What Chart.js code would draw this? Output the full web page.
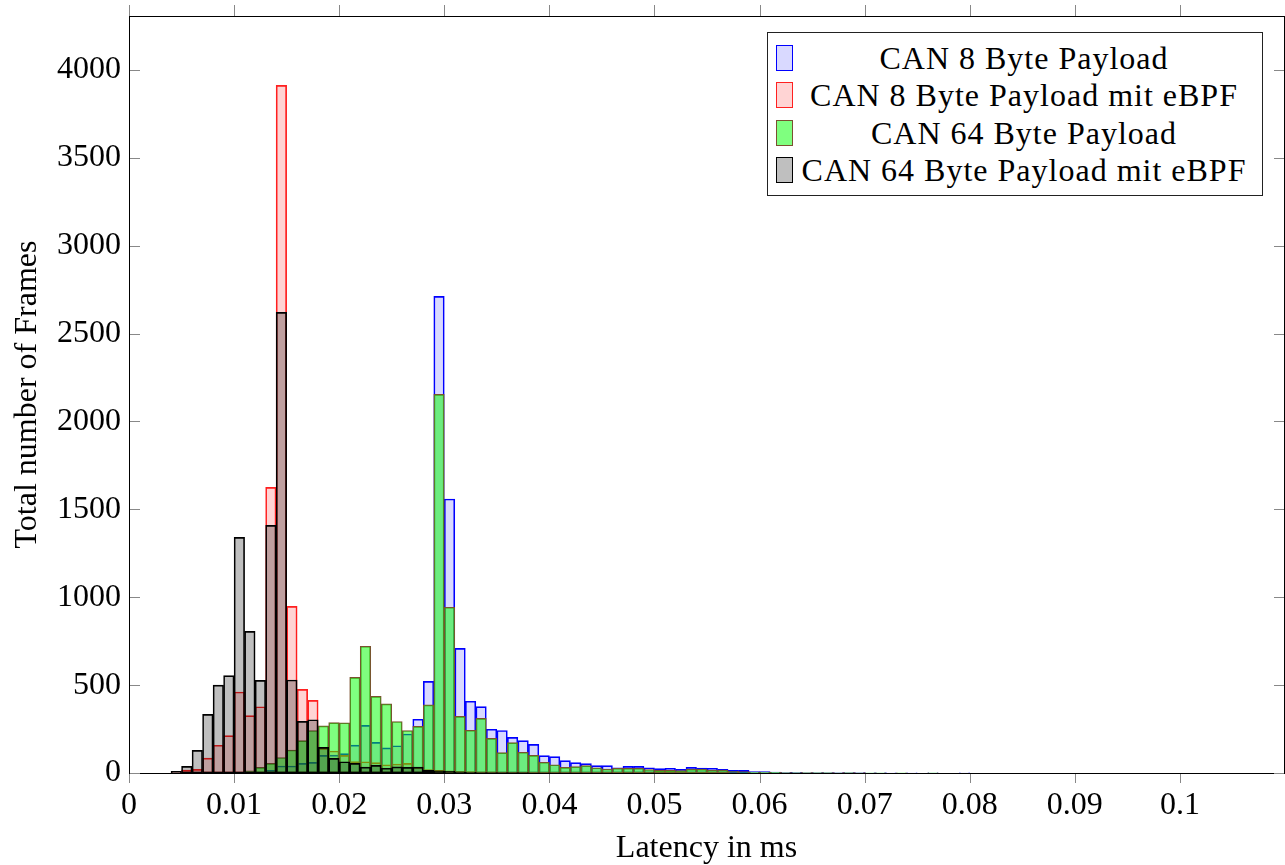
<!DOCTYPE html>
<html>
<head>
<meta charset="utf-8">
<script src="https://cdn.jsdelivr.net/npm/chart.js@4.4.1/dist/chart.umd.min.js"></script>
<style>
  body { margin: 0; background: #fff; }
  #wrap { position: relative; width: 1285px; height: 865px; }
  #legende {
    position: absolute; left: 767px; top: 32px; width: 496px; height: 164px;
    box-sizing: border-box; border: 1px solid #222; background: #fff;
    font-family: 'Liberation Serif', serif; font-size: 32px; letter-spacing: 1px; color: #000;
  }
  .zeile { position: absolute; left: 0; right: 0; height: 37px; }
  .kasten { position: absolute; left: 8px; top: 5px; width: 15px; height: 24px; border: 1px solid; }
  .text { position: absolute; left: 28px; right: 10px; top: 0; line-height: 37px; text-align: center; white-space: nowrap; }
</style>
</head>
<body>
<div id="wrap">
  <canvas id="histogramm" width="1285" height="865"></canvas>
  <div id="legende"></div>
</div>
<script>
// Histogramm: Bins zu je 0.001 ms, von 0 bis 0.1 ms
const binBreite = 0.001;
const binAnzahl = 100;

// Namen der Messreihen (Reihenfolge wie im Original gezeichnet)
const reihenNamen = [
  'CAN 8 Byte Payload',
  'CAN 8 Byte Payload mit eBPF',
  'CAN 64 Byte Payload',
  'CAN 64 Byte Payload mit eBPF'
];

// Anzahl Frames pro Bin
const can8 = [
  0, 0, 0, 0, 0, 0, 0, 0, 0, 0,
  0, 0, 5, 15, 40, 40, 55, 60, 100, 102,
  110, 159, 271, 174, 143, 155, 222, 306, 521, 2712,
  1559, 709, 408, 378, 249, 242, 203, 184, 163, 99,
  93, 70, 59, 53, 42, 42, 30, 38, 38, 30,
  25, 27, 21, 32, 28, 27, 21, 15, 15, 8,
  8, 5, 4, 4, 3, 3, 2, 2, 3, 2,
  1, 1, 1, 0, 1, 0, 1, 0, 0, 1,
  0, 0, 0, 0, 0, 0, 0, 0, 0, 0,
  0, 0, 0, 0, 0, 0, 0, 0, 0, 0
];
const can8Ebpf = [
  0, 0, 0, 0, 3, 16, 21, 85, 158, 213,
  461, 326, 377, 1625, 3912, 948, 476, 413, 140, 125,
  100, 65, 64, 59, 47, 51, 55, 32, 20, 15,
  12, 10, 8, 7, 6, 5, 4, 4, 3, 3,
  3, 2, 2, 2, 2, 2, 1, 1, 1, 1,
  1, 1, 1, 1, 1, 1, 1, 1, 1, 0,
  1, 0, 1, 0, 1, 0, 0, 1, 0, 1,
  0, 0, 0, 0, 0, 0, 0, 0, 0, 0,
  0, 0, 0, 0, 0, 0, 0, 0, 0, 0,
  0, 0, 0, 0, 0, 0, 0, 0, 0, 0
];
const can64 = [
  0, 0, 0, 0, 0, 0, 0, 0, 0, 0,
  3, 13, 32, 55, 88, 131, 184, 242, 268, 287,
  286, 544, 721, 436, 393, 293, 242, 265, 388, 2154,
  943, 322, 243, 311, 197, 116, 173, 118, 100, 61,
  47, 32, 36, 42, 30, 23, 27, 27, 27, 20,
  15, 15, 14, 22, 22, 17, 17, 10, 8, 5,
  5, 4, 3, 3, 2, 2, 2, 1, 2, 1,
  1, 1, 0, 1, 0, 0, 1, 0, 0, 0,
  0, 0, 0, 0, 0, 0, 0, 0, 0, 0,
  0, 0, 0, 0, 0, 0, 0, 0, 0, 0
];
const can64Ebpf = [
  0, 0, 0, 0, 9, 38, 129, 334, 500, 554,
  1341, 806, 527, 1409, 2621, 529, 294, 303, 146, 83,
  64, 55, 33, 43, 27, 35, 32, 33, 15, 12,
  10, 6, 4, 3, 3, 2, 2, 2, 1, 1,
  1, 1, 1, 1, 1, 1, 0, 1, 0, 1,
  0, 0, 0, 0, 0, 0, 0, 0, 0, 0,
  0, 0, 0, 0, 0, 0, 0, 0, 0, 0,
  0, 0, 0, 0, 0, 0, 0, 0, 0, 0,
  0, 0, 0, 0, 0, 0, 0, 0, 0, 0,
  0, 0, 0, 0, 0, 0, 0, 0, 0, 0
];

// Achsen und Tick-Werte
const xMax = 0.1099;
const yMax = 4307;
const xTicks = [0, 0.01, 0.02, 0.03, 0.04, 0.05, 0.06, 0.07, 0.08, 0.09, 0.1];
const yTicks = [0, 500, 1000, 1500, 2000, 2500, 3000, 3500, 4000];

// Farben
const fuellFarben = ['rgba(0,0,255,0.15)', 'rgba(255,0,0,0.17)', 'rgba(0,255,0,0.5)', 'rgba(0,0,0,0.25)'];
const randFarben = ['#0000ff', '#ff2020', '#7a5030', '#000000'];

const schrift = "'Liberation Serif', serif";

// Mittelpunkte der Bins
const binMitten = Array.from({ length: binAnzahl }, (_, i) => (i + 0.5) * binBreite);

function alsPunkte(werte) {
  return werte.map((v, i) => ({ x: binMitten[i], y: v }));
}

// Rahmen, Tick-Striche und Achsentitel
const rahmenPlugin = {
  id: 'rahmen',
  afterDatasetsDraw(chart) {
    const { ctx, chartArea: a, scales: { x, y } } = chart;
    ctx.save();
    ctx.strokeStyle = '#000';
    ctx.lineWidth = 1;
    ctx.strokeRect(a.left + 0.5, a.top + 0.5, a.right - a.left, a.bottom - a.top);

    ctx.strokeStyle = '#888';
    ctx.beginPath();
    x.ticks.forEach(t => {
      const px = Math.round(x.getPixelForValue(t.value)) + 0.5;
      ctx.moveTo(px, a.bottom + 1); ctx.lineTo(px, a.bottom + 10);
      ctx.moveTo(px, a.top); ctx.lineTo(px, a.top - 11);
    });
    y.ticks.forEach(t => {
      const py = Math.round(y.getPixelForValue(t.value)) + 0.5;
      ctx.moveTo(a.left + 1, py); ctx.lineTo(a.left + 11, py);
      ctx.moveTo(a.right, py); ctx.lineTo(a.right - 10, py);
    });
    ctx.stroke();

    ctx.fillStyle = '#000';
    ctx.font = '32px ' + schrift;
    ctx.textAlign = 'center';
    ctx.textBaseline = 'middle';
    ctx.fillText('Latency in ms', (a.left + a.right) / 2, 849);
    ctx.translate(28, (a.top + a.bottom) / 2);
    ctx.rotate(-Math.PI / 2);
    ctx.fillText('Total number of Frames', 0, 0);
    ctx.restore();
  }
};

function legendeBauen() {
  const box = document.getElementById('legende');
  const mitten = [25, 62.5, 100, 137];
  reihenNamen.forEach((name, i) => {
    const zeile = document.createElement('div');
    zeile.className = 'zeile';
    zeile.style.top = (mitten[i] - 18.5) + 'px';
    const kasten = document.createElement('div');
    kasten.className = 'kasten';
    kasten.style.background = fuellFarben[i];
    kasten.style.borderColor = randFarben[i];
    const text = document.createElement('div');
    text.className = 'text';
    text.textContent = name;
    zeile.appendChild(kasten);
    zeile.appendChild(text);
    box.appendChild(zeile);
  });
}

function zeichneHistogramm() {
  Chart.defaults.font.family = schrift;
  Chart.defaults.font.size = 32;
  Chart.defaults.color = '#000';

  const reihen = [can8, can8Ebpf, can64, can64Ebpf];
  const datasets = reihen.map((werte, i) => ({
    label: reihenNamen[i],
    data: alsPunkte(werte),
    backgroundColor: fuellFarben[i],
    borderColor: randFarben[i],
    borderWidth: 1,
    borderSkipped: false,
    barPercentage: 1,
    categoryPercentage: 1,
    grouped: false,
    order: reihen.length - i // letzte Reihe liegt oben
  }));

  const ctx = document.getElementById('histogramm').getContext('2d');
  new Chart(ctx, {
    type: 'bar',
    data: { datasets },
    options: {
      responsive: false,
      animation: false,
      layout: { padding: { top: 16, right: 1, left: 0, bottom: 0 } },
      scales: {
        x: {
          type: 'linear',
          offset: false,
          min: 0,
          max: xMax,
          grid: { display: false, drawTicks: false },
          border: { display: false },
          ticks: {
            autoSkip: false,
            maxRotation: 0,
            padding: 13,
            callback: v => (Math.abs(v) < 1e-9 ? '0' : String(parseFloat(v.toFixed(2))))
          },
          afterBuildTicks: s => { s.ticks = xTicks.map(v => ({ value: v })); },
          afterFit: s => { s.height = 92; s.paddingLeft = 0; s.paddingRight = 0; }
        },
        y: {
          min: 0,
          max: yMax,
          grid: { display: false, drawTicks: false },
          border: { display: false },
          ticks: {
            autoSkip: false,
            padding: 8,
            callback: v => String(v)
          },
          afterBuildTicks: s => { s.ticks = yTicks.map(v => ({ value: v })); },
          afterFit: s => { s.width = 129; s.paddingTop = 0; s.paddingBottom = 0; }
        }
      },
      plugins: {
        legend: { display: false },
        tooltip: { enabled: false }
      }
    },
    plugins: [rahmenPlugin]
  });
  legendeBauen();
}

document.addEventListener('DOMContentLoaded', zeichneHistogramm);
</script>
</body>
</html>
